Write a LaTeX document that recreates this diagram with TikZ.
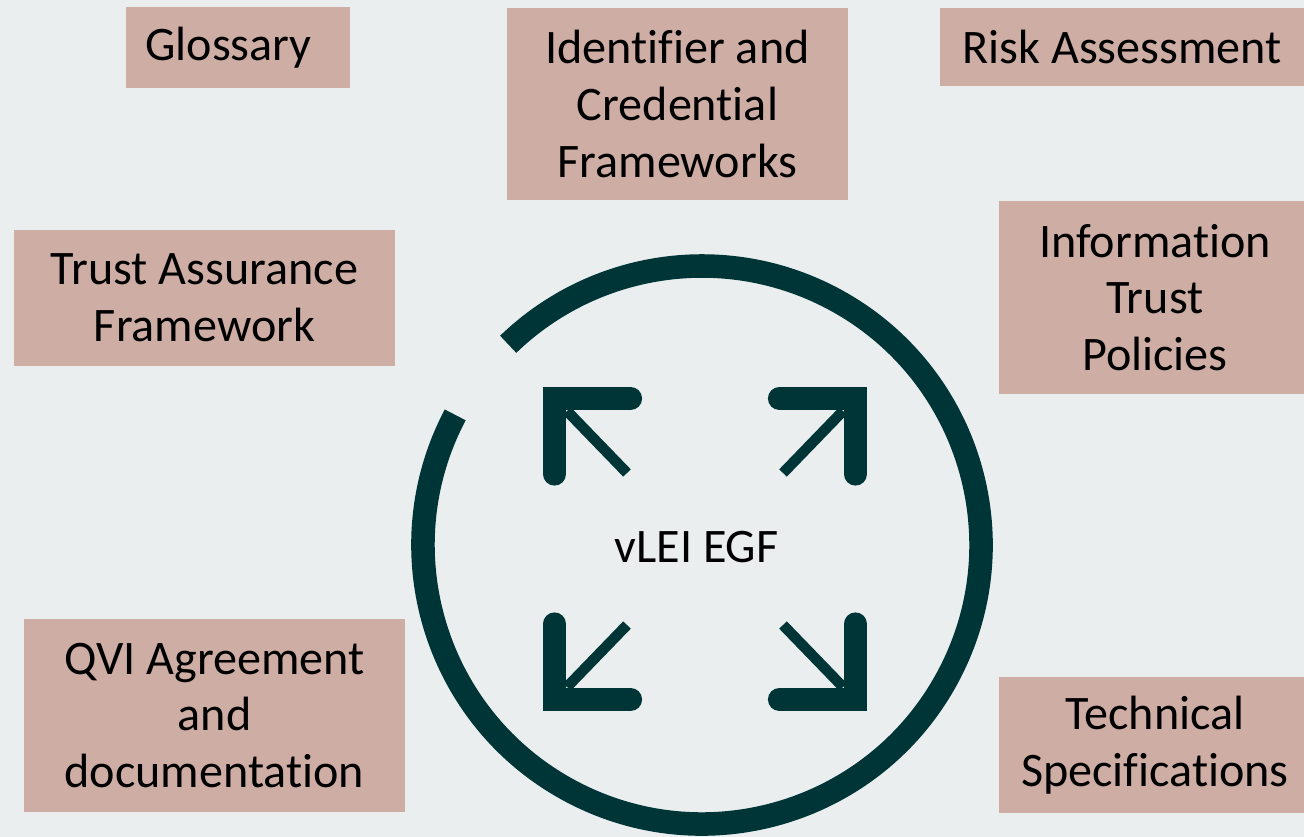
\documentclass[tikz,border=0pt]{standalone}
\usepackage{fontspec}
\setmainfont{Carlito}[Ligatures=NoCommon]
\definecolor{bgc}{RGB}{234,238,239}
\definecolor{boxc}{RGB}{205,173,164}
\definecolor{tealc}{RGB}{0,53,55}

\begin{document}
\begin{tikzpicture}[x=0.02cm,y=-0.02cm,
  box/.style={fill=boxc,inner sep=0pt,align=center,font=\fontsize{27.4}{32.3}\selectfont},
  ring/.style={draw=tealc,line width=13.4pt},
  iconbar/.style={draw=tealc,line width=13.2pt,line cap=round,line join=miter},
  icondiag/.style={draw=tealc,line width=6pt}]
\fill[bgc] (0,0) rectangle (1304,837);
\useasboundingbox (0,0) rectangle (1304,837);

\node[box,minimum width=4.48cm,minimum height=1.62cm] (glos) at (238,47.5) {Glossary\hspace*{10.8pt}};
\node[box,minimum width=6.82cm,minimum height=3.86cm] (idcred) at (677.5,104) {Identifier and\\Credential\\Frameworks};
\node[box,minimum width=7.28cm,minimum height=1.56cm] (risk) at (1122,47) {Risk Assessment};
\node[box,minimum width=7.62cm,minimum height=2.72cm] (trust) at (204.5,298) {Trust Assurance\\Framework};
\node[box,minimum width=6.24cm,minimum height=3.86cm] (infotrust) at (1155,297.5) {Information\\Trust\\Policies};
\node[box,minimum width=7.62cm,minimum height=3.86cm] (qvi) at (214.5,715.5) {QVI Agreement\\and\\documentation};
\node[box,minimum width=6.24cm,minimum height=2.72cm] (tech) at (1155,745) {Technical\\Specifications};

\coordinate (ctr) at (702,545);
\draw[ring] (ctr) ++(-152.2:279) arc[start angle=-152.2,end angle=-494,radius=279];

\foreach \sx/\sy in {1/1,-1/1,1/-1,-1/-1}{
  \begin{scope}[shift={(705,549)},xscale=\sx,yscale=\sy]
    \draw[iconbar] (-74.5,-150.5) -- (-150.5,-150.5) -- (-150.5,-75);
    \draw[icondiag] (-138,-138) -- (-78,-76);
  \end{scope}
}
\node[font=\fontsize{27.4}{32.3}\selectfont] (egf) at (696.5,547) {vLEI EGF};
\end{tikzpicture}
\end{document}
